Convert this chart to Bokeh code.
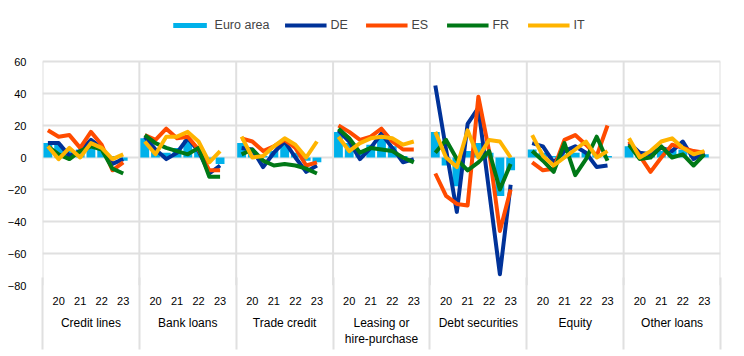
import math
from bokeh.plotting import figure
from bokeh.models import FixedTicker, LinearAxis, Legend, LegendItem, Range1d
from bokeh.embed import file_html
from bokeh.resources import INLINE

categories = ["Credit lines", "Bank loans", "Trade credit", "Leasing or\nhire-purchase",
              "Debt securities", "Equity", "Other loans"]
year_labels = ["20", "21", "22", "23"]
y_ticks = [-80, -60, -40, -20, 0, 20, 40, 60]

euro_area = [
    [9, 8, 4, 5, 10, 5, 1, -2],
    [12, 5, 3, 6, 11, 5, -1, -4],
    [9, 4, 1, 4, 9, 3, -2, -3],
    [16, 9, 4, 8, 13, 7, 1, 0],
    [16, -5, -18, 4, 9, 3, -24, -8],
    [5, 3, 1, 2, 3, 3, 2, 1],
    [7, 2, 1, 4, 5, 5, 2, 2],
]
de = [
    [9, 9, 1, 4, 11, 6, -4, -1],
    [13, 5, -1, 3, 12, 4, -10, -5],
    [6, 5, -6, 3, 10, 0, -9, -5],
    [17, 10, -1, 6, 15, 6, -3, -1],
    [45, 5, -34, 21, 31, -21, -73, -17],
    [9, 7, -3, 4, 7, 3, -6, -5],
    [9, 3, 2, 6, 4, 10, -1, 3],
]
es = [
    [17, 13, 14, 6, 16, 8, -8, -3],
    [14, 11, 18, 12, 13, 5, -8, -8],
    [12, 10, 4, 7, 11, 6, -5, -3],
    [20, 16, 11, 13, 18, 10, 5, 5],
    [-10, -24, -29, -30, 38, 4, -46, -20],
    [-3, -8, -7, 11, 14, 8, 1, 20],
    [10, 1, -9, 0, 8, 6, 4, 3],
]
fr = [
    [7, 2, -1, 4, 7, 5, -7, -10],
    [14, 9, 6, 4, 2, 6, -12, -12],
    [2, 5, -2, -5, -4, -5, -7, -10],
    [18, 12, 3, 6, 5, 4, 0, -3],
    [3, 11, -1, -8, -3, 4, -20, -4],
    [4, -2, -9, 9, -11, -1, 13, -2],
    [8, -1, 0, 7, 0, 2, -5, 2],
]
it = [
    [7, -1, 6, 0, 9, 6, -1, 2],
    [10, 2, 13, 13, 16, 10, -3, 4],
    [13, 0, 1, 7, 12, 8, 0, 10],
    [13, 4, 9, 12, 13, 12, 8, 10],
    [16, 0, -6, 17, 0, 11, 10, 0],
    [14, 1, -5, 0, 5, 10, 0, 4],
    [12, 0, 4, 10, 12, 6, 2, 4],
]

SLOTS = 9  # 8 half-year points + 1 empty slot per panel
FONT = "Liberation Sans"
GRID = "#e0e0e0"
Y_MIN, Y_MAX = -80, 60
PX_PER_UNIT = 224 / (Y_MAX - Y_MIN)
TOP_SPACE = 61  # room above the 60 gridline for the legend (inside the frame)

def positions(panel):
    return [panel * SLOTS + i for i in range(len(euro_area[panel]))]

n = len(categories)
p = figure(width=744, height=356, output_backend="svg", toolbar_location=None,
           x_range=Range1d(-0.5, n * SLOTS - 0.5),
           y_range=Range1d(Y_MIN, Y_MAX + TOP_SPACE / PX_PER_UNIT),
           min_border_left=42, min_border_right=24, min_border_top=0, min_border_bottom=71)
p.outline_line_color = None
p.background_fill_color = "white"

# grids
p.ygrid.ticker = FixedTicker(ticks=y_ticks)
p.ygrid.grid_line_color = GRID
p.ygrid.grid_line_width = 2
p.xgrid.grid_line_color = None
boundaries = [k * SLOTS - 0.5 for k in range(n + 1)]
p.segment(x0=boundaries, y0=Y_MIN, x1=boundaries, y1=Y_MAX, line_color=GRID, line_width=2)

# bars
bx, btop = [], []
for k in range(n):
    bx += positions(k)
    btop += euro_area[k]
bars = p.vbar(x=bx, top=btop, bottom=0, width=0.82, fill_color="#00B1EA", line_color=None)

def series_line(vals, color):
    xs, ys = [], []
    for k in range(n):
        xs += positions(k) + [math.nan]
        ys += vals[k] + [math.nan]
    return p.line(xs, ys, line_color=color, line_width=4, line_join="round")

r_de = series_line(de, "#003299")
r_es = series_line(es, "#FF4B00")
r_fr = series_line(fr, "#007816")
r_it = series_line(it, "#FFB400")

# y axis
p.yaxis.ticker = FixedTicker(ticks=y_ticks)
p.yaxis.axis_line_color = None
p.yaxis.major_tick_line_color = None
p.yaxis.minor_tick_line_color = None
p.yaxis.major_label_standoff = 10
p.yaxis.major_label_text_font = FONT
p.yaxis.major_label_text_font_size = "11px"
p.yaxis.major_label_text_color = "black"

# year axis
year_ticks, year_over = [], {}
for k in range(n):
    for j, lab in enumerate(year_labels):
        t = k * SLOTS + 2 * j + 1
        year_ticks.append(t)
        year_over[t] = lab
xa = p.xaxis[0]
xa.ticker = FixedTicker(ticks=year_ticks)
xa.major_label_overrides = year_over
xa.axis_line_color = None
xa.major_tick_line_color = None
xa.minor_tick_line_color = None
xa.major_label_standoff = 5
xa.major_label_text_font = FONT
xa.major_label_text_font_size = "11px"
xa.major_label_text_color = "black"

# category axis
cat_ticks = [k * SLOTS + 4 for k in range(n)]
cat_axis = LinearAxis(ticker=FixedTicker(ticks=cat_ticks),
                      major_label_overrides={t: c for t, c in zip(cat_ticks, categories)},
                      axis_line_color=None, major_tick_line_color=None, minor_tick_line_color=None,
                      major_label_standoff=2, major_label_text_font=FONT,
                      major_label_text_font_size="12px", major_label_text_color="black")
p.add_layout(cat_axis, "below")

# separator ticks extending below the frame
sep_axis = LinearAxis(ticker=FixedTicker(ticks=boundaries), axis_line_color=None,
                      major_tick_in=72, major_tick_out=0, major_tick_line_color=GRID,
                      major_tick_line_width=2, minor_tick_line_color=None,
                      major_label_overrides={b: "" for b in boundaries},
                      major_label_standoff=6)
p.add_layout(sep_axis, "below")

legend = Legend(items=[LegendItem(label="Euro area", renderers=[bars]),
                       LegendItem(label="DE", renderers=[r_de]),
                       LegendItem(label="ES", renderers=[r_es]),
                       LegendItem(label="FR", renderers=[r_fr]),
                       LegendItem(label="IT", renderers=[r_it])],
                orientation="horizontal", location="top_center",
                glyph_width=42, glyph_height=6, label_height=12, label_standoff=4,
                spacing=15, padding=0, margin=18, border_line_color=None,
                background_fill_alpha=0, label_text_font=FONT, label_text_font_size="12.5px")
p.add_layout(legend)

open("out.html", "w").write(file_html(p, INLINE))
